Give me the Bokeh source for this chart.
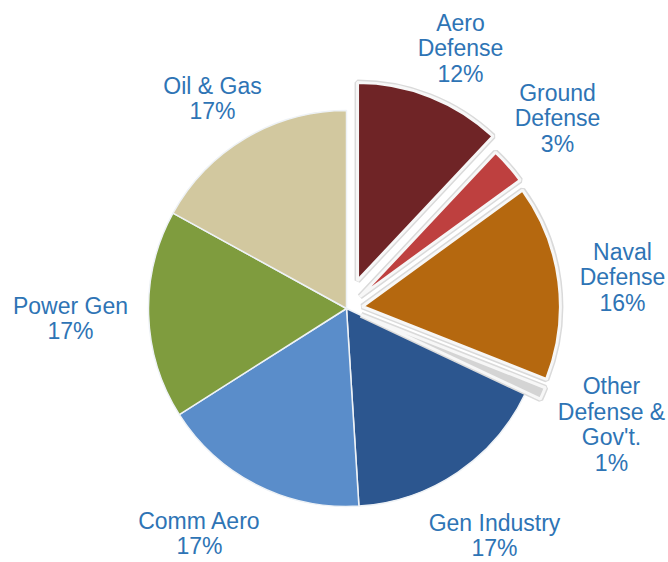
import math
from bokeh.plotting import figure
from bokeh.models import ColumnDataSource, Range1d
from bokeh.core.properties import value
from bokeh.embed import file_html
from bokeh.resources import INLINE

# ---- data ----
categories = ["Aero Defense", "Ground Defense", "Naval Defense",
              "Other Defense & Gov't.", "Gen Industry", "Comm Aero",
              "Power Gen", "Oil & Gas"]
shares = [12, 3, 16, 1, 17, 17, 17, 17]
label_lines = ["Aero\nDefense", "Ground\nDefense", "Naval\nDefense",
               "Other\nDefense &\nGov't.", "Gen Industry", "Comm Aero",
               "Power Gen", "Oil & Gas"]

# ---- styles / layout ----
colors = ["#6F2426", "#BE403F", "#B5680F", "#D4D4D4",
          "#2C568F", "#5A8DCA", "#7F9C3E", "#D2C89F"]
explode = [30, 18, 16, 16, 0, 0, 0, 0]
label_pos = [(460, 48), (557, 118), (622, 277), (611, 424),
             (494, 535), (199, 533), (70, 318), (212, 98)]
W, H = 668, 562
CX, CY = 346, -308
R = 198

total = sum(shares)
starts, ends, xs, ys = [], [], [], []
acc = 0.0
for s, d in zip(shares, explode):
    t1 = acc / total * 2 * math.pi        # clockwise from 12 o'clock
    acc += s
    t2 = acc / total * 2 * math.pi
    mid = (t1 + t2) / 2
    starts.append(math.pi / 2 - t2)
    ends.append(math.pi / 2 - t1)
    xs.append(CX + d * math.sin(mid))
    ys.append(CY + d * math.cos(mid))

src = ColumnDataSource(dict(x=xs, y=ys, start=starts, end=ends, color=colors))

p = figure(width=W, height=H, output_backend="svg", toolbar_location=None,
           x_range=Range1d(0, W), y_range=Range1d(-H, 0),
           x_axis_type=None, y_axis_type=None, min_border=0)
p.grid.visible = False
p.outline_line_color = None
p.background_fill_color = "white"

idx_exp = [i for i, d in enumerate(explode) if d > 0]
idx_flat = [i for i, d in enumerate(explode) if d == 0]

def sub(idx):
    return ColumnDataSource({k: [v[i] for i in idx] for k, v in src.data.items()})

flat = sub(idx_flat)
exp = sub(idx_exp)

# flat slices
p.wedge(x="x", y="y", radius=R, start_angle="start", end_angle="end",
        fill_color="color", line_color="#EEF2F6", line_width=1.5, source=flat)
# exploded slices with bevel-like rim
p.wedge(x="x", y="y", radius=R, start_angle="start", end_angle="end",
        fill_color="color", line_color="#DADADA", line_width=6, source=exp)
p.wedge(x="x", y="y", radius=R, start_angle="start", end_angle="end",
        fill_color="color", line_color="#F7F7F7", line_width=3, source=exp)

texts = [f"{l}\n{s}%" for l, s in zip(label_lines, shares)]
lsrc = ColumnDataSource(dict(x=[p_[0] for p_ in label_pos],
                             y=[-p_[1] for p_ in label_pos], text=texts))
p.text(x="x", y="y", text="text", source=lsrc, text_align="center",
       text_baseline="middle", text_font=value("Liberation Sans"),
       text_font_size="23px", text_color="#2E74B5", text_line_height=0.98)

open("out.html", "w").write(file_html(p, INLINE))
